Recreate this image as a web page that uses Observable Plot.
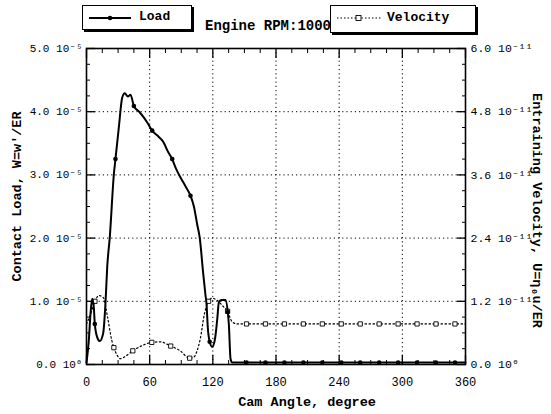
<!DOCTYPE html>
<html>
<head>
<meta charset="utf-8">
<script src="https://cdn.jsdelivr.net/npm/d3@7"></script>
<script src="https://cdn.jsdelivr.net/npm/@observablehq/plot@0.6"></script>
<style>
  body { margin: 0; background: #fff; }
  #wrap { position: relative; width: 551px; height: 414px; font-family: "Liberation Mono", "DejaVu Sans Mono", monospace; }
  #wrap svg { position: absolute; left: 0; top: 0; }
  .box { position: absolute; background: #fff; border: 1.5px solid #000; box-shadow: 2px 2px 0 #000; box-sizing: border-box; }
  .ltxt { position: absolute; font-weight: bold; font-size: 13px; color: #000; white-space: nowrap; }
</style>
</head>
<body>
<div id="wrap"></div>
<script>
// ---- data (load in units of 1e-5, velocity in units of 1e-11) ----
const loadAngle = [0,2.2,3.8,5.4,6.9,7.9,10.2,12.6,15.8,18,19.7,22.1,26,27.5,30.7,33.9,36.4,39.3,41.8,45,50,54.4,58,62.4,68.7,73.4,77,81.4,85,89.3,94,98.8,102,105.1,107.6,110.8,113,114,115.2,117,119.4,122,124.1,125.7,127.9,132,134.2,135.2,136.8,138.4,152,170,188,206,224,242,260,278,296,314,332,350,360];
const loadValue = [0.03,0.38,0.80,1.04,0.91,0.64,0.43,0.37,0.49,0.96,1.55,2.01,3.01,3.25,3.75,4.22,4.29,4.24,4.27,4.09,4.00,3.91,3.82,3.70,3.60,3.51,3.38,3.25,3.10,2.96,2.82,2.67,2.50,2.22,2.00,1.45,1.10,0.96,0.59,0.36,0.28,0.40,0.70,0.98,1.02,1.02,0.83,0.64,0.09,0.03,0.03,0.03,0.03,0.03,0.03,0.03,0.03,0.03,0.03,0.03,0.03,0.03,0.03];
const loadMarkAngle = [7.9,27.5,45,62.4,81.4,98.8,117,134.2,152,170,188,206,224,242,260,278,296,314,332,350];
const loadMarkValue = [0.64,3.25,4.09,3.70,3.25,2.67,0.36,0.83,0.03,0.03,0.03,0.03,0.03,0.03,0.03,0.03,0.03,0.03,0.03,0.03];

const velAngle = [0,4,8,12,16,20,24,26,29,32,38,44,53,62,70,80,89,98,102,105,108,112,116,119,124,130,134,138,143,152,170,188,206,224,242,260,278,296,314,332,350,360];
const velValue = [0.77,0.96,1.20,1.31,1.27,0.90,0.46,0.32,0.18,0.11,0.17,0.26,0.36,0.42,0.43,0.35,0.26,0.12,0.14,0.26,0.48,0.96,1.20,1.26,1.22,1.10,1.01,0.82,0.77,0.77,0.77,0.77,0.77,0.77,0.77,0.77,0.77,0.77,0.77,0.77,0.77,0.77];
const velMarkAngle = [8,26,44,62,80,98,116,134,152,170,188,206,224,242,260,278,296,314,332,350];
const velMarkValue = [1.20,0.32,0.26,0.42,0.35,0.12,1.20,1.01,0.77,0.77,0.77,0.77,0.77,0.77,0.77,0.77,0.77,0.77,0.77,0.77];

const xTicks = [0,60,120,180,240,300,360];
const xMinor = [15,30,45,75,90,105,135,150,165,195,210,225,255,270,285,315,330,345];
const yTicks = [0,1,2,3,4,5];
const yMinor = [0.25,0.5,0.75,1.25,1.5,1.75,2.25,2.5,2.75,3.25,3.5,3.75,4.25,4.5,4.75];
const leftTickLabels = ["0.0 10⁰","1.0 10⁻⁵","2.0 10⁻⁵","3.0 10⁻⁵","4.0 10⁻⁵","5.0 10⁻⁵"];
const rightTickLabels = ["0.0 10⁰","1.2 10⁻¹¹","2.4 10⁻¹¹","3.6 10⁻¹¹","4.8 10⁻¹¹","6.0 10⁻¹¹"];
const velMax = 6.0;   // right axis top (1e-11) maps to left axis top
const loadMax = 5.0;  // left axis top (1e-5)

const load = loadAngle.map((a,i)=>({a, v: loadValue[i]}));
const loadM = loadMarkAngle.map((a,i)=>({a, v: loadMarkValue[i]}));
const vel = velAngle.map((a,i)=>({a, v: velValue[i]*loadMax/velMax}));
const velM = velMarkAngle.map((a,i)=>({a, v: velMarkValue[i]*loadMax/velMax}));

const font = "Liberation Mono, DejaVu Sans Mono, monospace";

const chart = Plot.plot({
  width: 551, height: 414,
  marginLeft: 86, marginRight: 86, marginTop: 48, marginBottom: 50,
  style: {fontFamily: font, fontSize: "12px", color: "#000", background: "#fff"},
  x: {domain: [0,360]},
  y: {domain: [0,5]},
  marks: [
    Plot.ruleX([60,120,180,240,300], {stroke: "#000", strokeWidth: 1, strokeDasharray: "1.2,3"}),
    Plot.ruleY([1,2,3,4], {stroke: "#000", strokeWidth: 1, strokeDasharray: "1.2,3"}),
    // ticks (inward)
    Plot.axisX({anchor: "bottom", ticks: xTicks, tickSize: -9, tickFormat: () => "", label: null, strokeWidth: 1.3}),
    Plot.axisX({anchor: "bottom", ticks: xMinor, tickSize: -4, tickFormat: () => "", label: null}),
    Plot.axisX({anchor: "top", ticks: xTicks, tickSize: -9, tickFormat: () => "", label: null, strokeWidth: 1.3}),
    Plot.axisX({anchor: "top", ticks: xMinor, tickSize: -4, tickFormat: () => "", label: null}),
    Plot.axisY({anchor: "left", ticks: yTicks, tickSize: -9, tickFormat: () => "", label: null, strokeWidth: 1.3}),
    Plot.axisY({anchor: "left", ticks: yMinor, tickSize: -4, tickFormat: () => "", label: null}),
    Plot.axisY({anchor: "right", ticks: yTicks, tickSize: -9, tickFormat: () => "", label: null, strokeWidth: 1.3}),
    Plot.axisY({anchor: "right", ticks: yMinor, tickSize: -4, tickFormat: () => "", label: null}),
    // labels
    Plot.axisX({anchor: "bottom", ticks: xTicks, tickSize: 0, tickPadding: 13, tickFormat: d => String(d), label: null, fontSize: 12}),
    Plot.axisY({anchor: "left", ticks: yTicks, tickSize: 0, tickPadding: 4, tickFormat: (d,i) => leftTickLabels[yTicks.indexOf(d)], label: null, fontSize: 11}),
    Plot.axisY({anchor: "right", ticks: yTicks, tickSize: 0, tickPadding: 5, tickFormat: (d,i) => rightTickLabels[yTicks.indexOf(d)], label: null, fontSize: 11.5}),
    // axis titles
    Plot.text(["Cam Angle, degree"], {frameAnchor: "bottom", dx: 31, dy: 41, fontWeight: "bold", fontSize: 13.5}),
    Plot.text(["Contact Load, W=w'/ER"], {frameAnchor: "left", textAnchor: "middle", dx: -70, dy: -10, rotate: -90, fontWeight: "bold", fontSize: 13.5}),
    Plot.text(["Entraining Velocity, U=η₀u/ER"], {frameAnchor: "right", textAnchor: "middle", dx: 72, dy: 4, rotate: 90, fontWeight: "bold", fontSize: 13.5}),
    // series
    Plot.line(vel, {x: "a", y: "v", curve: "monotone-x", stroke: "#000", strokeWidth: 1.2, strokeDasharray: "1.5,2.5"}),
    Plot.dot(velM, {x: "a", y: "v", symbol: "square", r: 2.4, fill: "#fff", stroke: "#000", strokeWidth: 0.9}),
    Plot.line(load, {x: "a", y: "v", curve: "monotone-x", stroke: "#000", strokeWidth: 2}),
    Plot.dot(loadM, {x: "a", y: "v", r: 2.3, fill: "#000"}),
    Plot.frame({stroke: "#000", strokeWidth: 1.6})
  ]
});
const wrap = document.getElementById("wrap");
wrap.appendChild(chart);

// title and legends
wrap.insertAdjacentHTML("beforeend", `
  <div class="ltxt" style="left:205px; top:18px; font-size:14px;">Engine RPM:1000</div>
  <div class="box" style="left:82px; top:5px; width:110px; height:25px;">
    <svg width="110" height="22" style="position:absolute;left:0;top:0">
      <line x1="6" y1="12" x2="48" y2="12" stroke="#000" stroke-width="1.8"/>
      <circle cx="27" cy="12" r="2.3" fill="#000"/>
    </svg>
    <div class="ltxt" style="left:56px; top:3px;">Load</div>
  </div>
  <div class="box" style="left:330px; top:5px; width:146px; height:28px;">
    <svg width="60" height="24" style="position:absolute;left:0;top:0">
      <line x1="6" y1="12" x2="50" y2="12" stroke="#000" stroke-width="1" stroke-dasharray="1.5,2"/>
      <rect x="25" y="9.5" width="5" height="5" fill="#fff" stroke="#000" stroke-width="0.9"/>
    </svg>
    <div class="ltxt" style="left:56px; top:4px;">Velocity</div>
  </div>
`);
</script>
</body>
</html>
